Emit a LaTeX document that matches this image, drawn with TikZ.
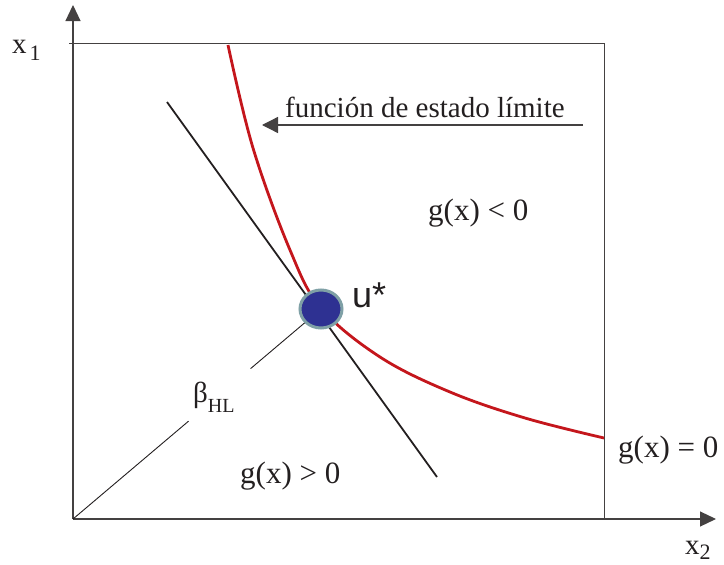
\documentclass[tikz,border=0pt]{standalone}
\usepackage{fontspec}
\setmainfont{Liberation Serif}
\newfontfamily\ustarfont{Liberation Sans}
\usepackage{tikz}
\usetikzlibrary{arrows.meta, positioning, shapes.geometric, calc}
\definecolor{limcolor}{HTML}{C4161C}
\definecolor{ptcolor}{HTML}{2E3192}
\definecolor{rimcolor}{HTML}{7FA0A6}
\definecolor{inkcolor}{HTML}{231F20}
\newcommand{\lowidx}[2][7pt]{\raisebox{-#1}{\fontsize{22}{22}\selectfont #2}}

\begin{document}
\begin{tikzpicture}[x=1pt, y=-1pt,
    axis/.style={-{Triangle[length=16pt, width=15pt]}, line width=1.2pt, draw=inkcolor!85},
    frame/.style={line width=1pt, draw=inkcolor!85},
    limit/.style={line width=2.8pt, draw=limcolor},
    tangent/.style={line width=1.8pt, draw=inkcolor},
    ray/.style={line width=0.9pt, draw=inkcolor},
    pointer/.style={-{Triangle[length=16pt, width=16pt]}, line width=1.3pt, draw=inkcolor!85},
    txt/.style={anchor=base west, inner sep=0pt, text=inkcolor,
                font=\fontsize{29}{32}\selectfont},
    gtxt/.style={txt, font=\fontsize{31}{34}\selectfont},
    design/.style={ellipse, draw=rimcolor, fill=ptcolor, line width=3pt,
                   minimum width=42pt, minimum height=38pt, inner sep=0pt}
]
    \useasboundingbox (0,0) rectangle (724,565);

    \coordinate (O)    at (73,519);
    \coordinate (ytop) at (73,5);
    \coordinate (xend) at (716,519);
    \coordinate (tl)   at (69,43);
    \coordinate (tr)   at (604,43);
    \coordinate (br)   at (604,519);
    \coordinate (t1)   at (167,102);
    \coordinate (t2)   at (437,477);
    \coordinate (ftail) at (583,125);
    \coordinate (ftip)  at (262,125);

    \draw[axis]  (O) -- (ytop);
    \draw[axis]  (O) -- (xend);
    \draw[frame] (tl) -- (tr) -- (br);

    \draw[limit] plot[smooth, tension=0.6] coordinates
        {(228,45) (253,148) (290,250) (321,308) (380,357) (450,392) (525,418) (604,438)};
    \draw[tangent] (t1) -- (t2);

    \node[design] (u) at (321,309) {};
    \draw[ray] (O) -- ($(O)!0.466!(u)$);
    \draw[ray] ($(O)!0.716!(u)$) -- (u);

    \draw[pointer] (ftail) -- (ftip);

    \node[txt] (x1)   at (12,53)   {x\hspace{3pt}\lowidx{1}};
    \node[txt] (x2)   at (685,554) {x\lowidx[5pt]{2}};
    \node[txt] (flbl) at (285,117) {función de estado límite};
    \node[gtxt] (gneg) at (428,220) {g(x) < 0};
    \node[gtxt] (gpos) at (240,483) {g(x) > 0};
    \node[gtxt] (gnul) at (618,457) {g(x) = 0};
    \node[txt] (beta) at (193,402) {β\lowidx[10pt]{\fontsize{20}{20}\selectfont HL}};
    \node[txt, font=\ustarfont\fontsize{36}{38}\selectfont] (ulbl) at (352,307) {u*};
\end{tikzpicture}
\end{document}
